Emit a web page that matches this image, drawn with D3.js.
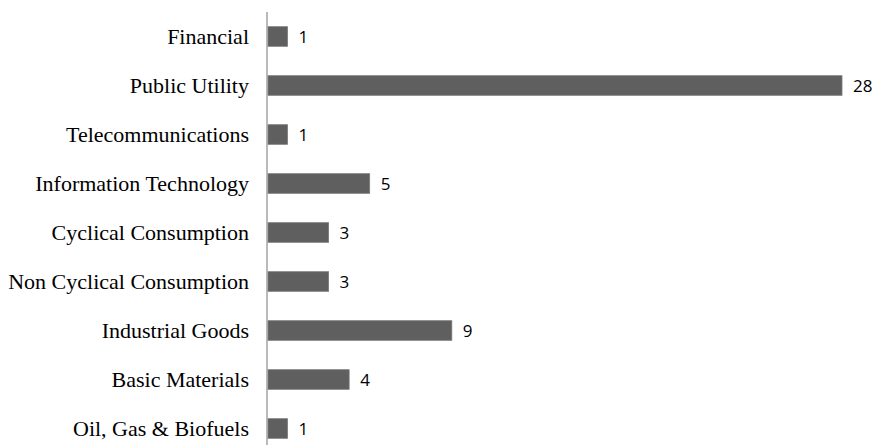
<!DOCTYPE html>
<html>
<head>
<meta charset="utf-8">
<script src="https://cdn.jsdelivr.net/npm/d3@7"></script>
<style>
  body { margin: 0; background: #fff; }
  svg { display: block; }
</style>
</head>
<body>
<svg id="chart" width="875" height="445"></svg>
<script>
// sectors, top to bottom
var sectors = [
  "Financial",
  "Public Utility",
  "Telecommunications",
  "Information Technology",
  "Cyclical Consumption",
  "Non Cyclical Consumption",
  "Industrial Goods",
  "Basic Materials",
  "Oil, Gas & Biofuels"
];
var counts = [1, 28, 1, 5, 3, 3, 9, 4, 1];

var chartW = 875, chartH = 445;
var plotLeft = 267, plotRight = 842, plotTop = 12, plotBottom = 453;

var svg = d3.select("#chart");

var x = d3.scaleLinear().domain([0, 28]).range([plotLeft, plotRight]);
var y = d3.scaleBand().domain(sectors).range([plotTop, plotBottom]).paddingInner(0.6).paddingOuter(0.3);

var rows = sectors.map(function (s, i) { return { name: s, value: counts[i] }; });

svg.selectAll("rect.bar")
  .data(rows)
  .enter().append("rect")
  .attr("class", "bar")
  .attr("x", x(0) + 1)
  .attr("y", function (d) { return y(d.name); })
  .attr("width", function (d) { return x(d.value) - x(0) - 1; })
  .attr("height", y.bandwidth())
  .attr("fill", "#5f5f5f")
  .attr("stroke", "#7a7a7a")
  .attr("stroke-width", 0.8);

// value labels
svg.selectAll("text.val")
  .data(rows)
  .enter().append("text")
  .attr("class", "val")
  .attr("x", function (d) { return x(d.value) + 11; })
  .attr("y", function (d) { return y(d.name) + y.bandwidth() / 2; })
  .attr("dy", "0.36em")
  .attr("font-family", "'Open Sans', 'Liberation Sans', sans-serif")
  .attr("font-size", 17)
  .attr("fill", "#000")
  .text(function (d) { return d.value; });

// category axis (no ticks, just the line)
var axis = d3.axisLeft(y).tickSize(0).tickPadding(18);
var g = svg.append("g").attr("transform", "translate(" + plotLeft + ",0)").call(axis);
g.select(".domain").remove();
g.selectAll("text")
  .attr("font-family", "'Liberation Serif', 'Times New Roman', serif")
  .attr("font-size", 22)
  .attr("fill", "#000");

svg.append("line")
  .attr("x1", plotLeft).attr("x2", plotLeft)
  .attr("y1", plotTop).attr("y2", chartH)
  .attr("stroke", "#8c8c8c")
  .attr("stroke-width", 1.2);
</script>
</body>
</html>
